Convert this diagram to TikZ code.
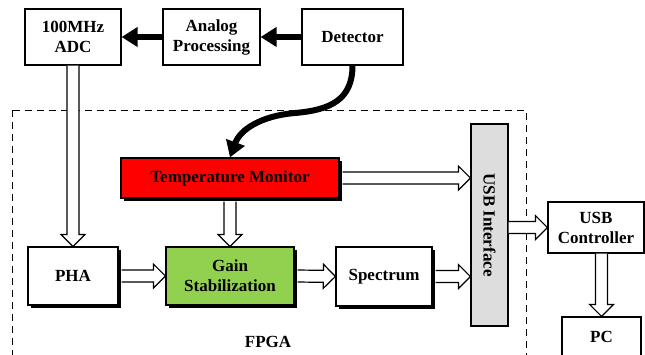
\documentclass[tikz,border=0pt]{standalone}
\usepackage{fontspec}
\setmainfont{Liberation Serif}
\usetikzlibrary{arrows.meta,calc,shadows}

\definecolor{tempred}{RGB}{255,0,0}
\definecolor{gaingreen}{RGB}{146,208,80}
\definecolor{usbgray}{RGB}{221,221,221}

\tikzset{
  blk/.style={draw, line width=1.2pt, fill=white, align=center, inner sep=0pt,
    font=\bfseries\fontsize{17}{20}\selectfont},
  shadowed/.style={drop shadow={shadow xshift=3pt, shadow yshift=-3pt, opacity=1, fill=black}},
  bigarrow/.style={line width=6pt, -{Triangle[length=16pt,width=19pt]}},
  fatline/.style={line width=1.2pt, draw=black, fill=white, line join=miter},
}

% hollow block arrow from #1 to #2
\newcommand{\fatarrow}[2]{%
  \coordinate (fa-h) at ($(#2)!12pt!(#1)$);
  \draw[fatline] ($(#1)!6pt!90:(#2)$) -- ($(fa-h)!6pt!90:(#2)$) -- ($(fa-h)!12pt!90:(#2)$) -- (#2)
    -- ($(fa-h)!12pt!-90:(#2)$) -- ($(fa-h)!6pt!-90:(#2)$) -- ($(#1)!6pt!-90:(#2)$);
}

\begin{document}
\begin{tikzpicture}[x=1pt,y=-1pt]
  \clip (0,0) rectangle (645,354);

  % FPGA border
  \draw[dash pattern=on 7pt off 5pt, line width=1pt] (12,110) rectangle (526,380);
  \node[font=\bfseries\fontsize{17}{20}\selectfont] (fpga) at (268,342) {FPGA};

  % front end
  \node[blk, minimum width=96pt, minimum height=56pt] (adc) at (73,37) {100MHz\\ADC};
  \node[blk, minimum width=97pt, minimum height=56pt] (ana) at (211.5,37) {Analog\\Processing};
  \node[blk, minimum width=101pt, minimum height=56pt] (det) at (352.5,37) {Detector};

  % blocks inside the FPGA
  \node[blk, shadowed, fill=tempred, minimum width=218pt, minimum height=40pt] (temp) at (230,178) {Temperature Monitor};
  \node[blk, shadowed, minimum width=90pt, minimum height=58pt] (pha) at (73,276) {PHA};
  \node[blk, shadowed, fill=gaingreen, minimum width=128pt, minimum height=58pt] (gain) at (230,276) {Gain\\Stabilization};
  \node[blk, shadowed, minimum width=96pt, minimum height=59pt] (spec) at (384,276.5) {Spectrum};
  \node[blk, fill=usbgray, minimum width=37pt, minimum height=202pt] (usb) at (489.5,225) {\rotatebox{-90}{USB Interface}};

  % host side
  \node[blk, minimum width=96pt, minimum height=51pt] (ctrl) at (596,227.5) {USB\\Controller};
  \node[blk, minimum width=79pt, minimum height=40pt] (pc) at (601.5,337) {PC};

  % analog signal chain
  \draw[bigarrow] (det.west) -- (ana.east);
  \draw[bigarrow] (ana.west) -- (adc.east);
  \draw[bigarrow] (det.south) .. controls (352.5,100) and (330,110) .. (295,113)
    .. controls (260,116) and (240,130) .. (temp.north);

  % data paths
  \coordinate (adcout) at (pha.north |- adc.south);
  \fatarrow{adcout}{pha.north}
  \fatarrow{[yshift=-3pt]temp.south}{gain.north}
  \fatarrow{[xshift=3pt]pha.east}{gain.west}
  \fatarrow{[xshift=3pt]gain.east}{spec.west}
  \coordinate (usbin1) at (usb.west |- temp.east);
  \fatarrow{[xshift=3pt]temp.east}{usbin1}
  \coordinate (usbin2) at (usb.west |- spec.east);
  \fatarrow{[xshift=3pt]spec.east}{usbin2}
  \coordinate (usbout) at (usb.east |- ctrl.west);
  \fatarrow{usbout}{ctrl.west}
  \coordinate (ctrlout) at (pc.north |- ctrl.south);
  \fatarrow{ctrlout}{pc.north}
\end{tikzpicture}
\end{document}
